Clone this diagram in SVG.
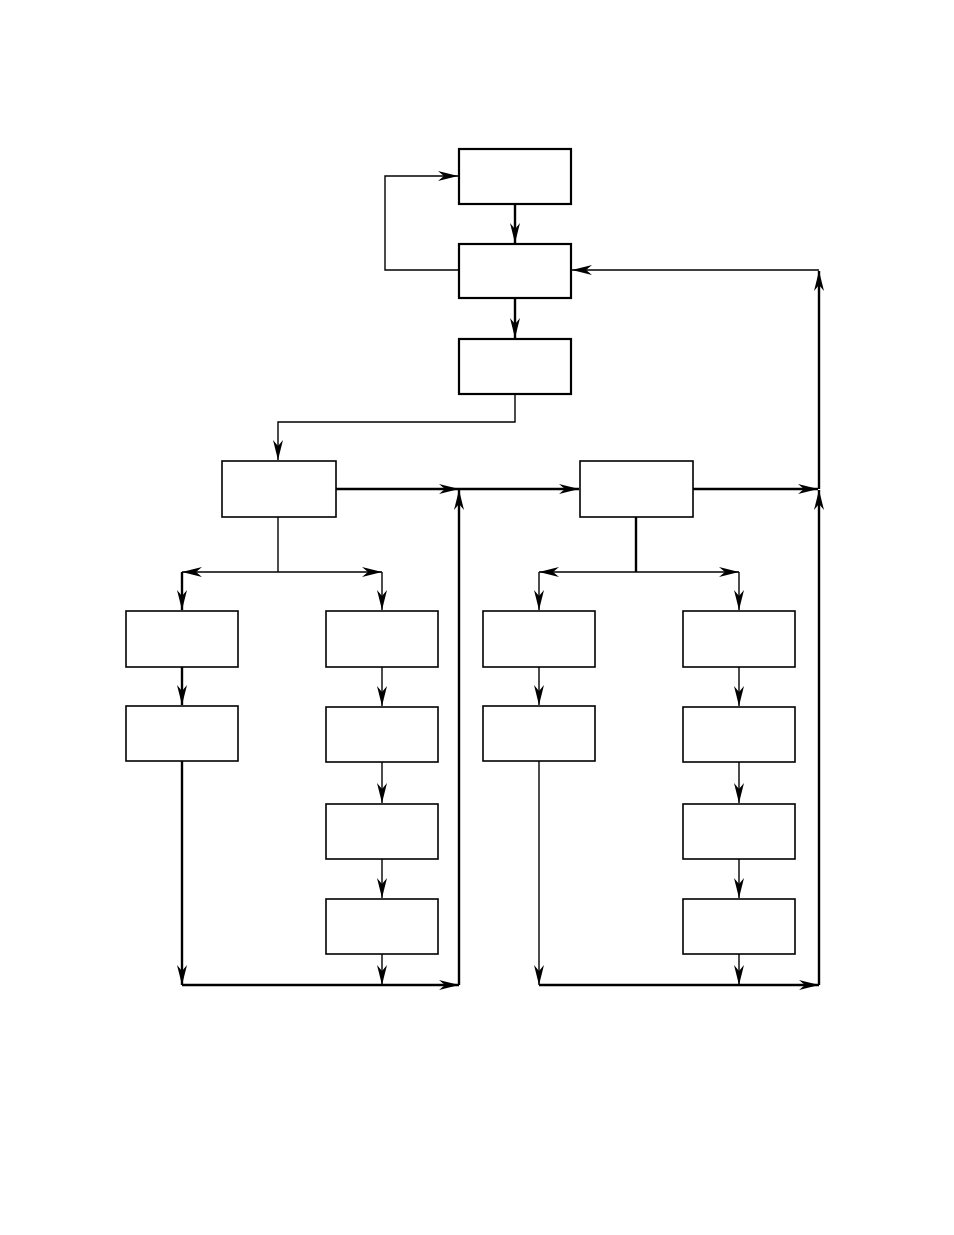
<svg xmlns="http://www.w3.org/2000/svg" width="954" height="1235" viewBox="0 0 954 1235">
<style>
.box{fill:#fff;stroke:#000;stroke-width:1.6}
.boxb{fill:#fff;stroke:#000;stroke-width:2.2}
.thin{fill:none;stroke:#000;stroke-width:1.4}
.thick{fill:none;stroke:#000;stroke-width:2.4}
</style>
<defs>
<marker id="ah" markerUnits="userSpaceOnUse" markerWidth="24" markerHeight="14" viewBox="-22 -7 24 14" refX="0" refY="0" orient="auto">
<path d="M0,0 L-20,-5 L-14,0 L-20,5 Z" fill="#000"/>
</marker>
</defs>
<rect width="954" height="1235" fill="#fff"/>
<g id="connectors">
<path class="thick" d="M515,204 V243" marker-end="url(#ah)"/>
<path class="thick" d="M515,298 V338" marker-end="url(#ah)"/>
<path class="thin" d="M459,270 H385 V176 H458" marker-end="url(#ah)"/>
<path class="thin" d="M819,270 H572" marker-end="url(#ah)"/>
<path class="thin" d="M515,394 V422 H278 V460" marker-end="url(#ah)"/>
<path class="thick" d="M336,489 H459" marker-end="url(#ah)"/>
<path class="thick" d="M459,985 V490" marker-end="url(#ah)"/>
<path class="thick" d="M459,489 H579" marker-end="url(#ah)"/>
<path class="thick" d="M693,489 H818" marker-end="url(#ah)"/>
<path class="thick" d="M819,985 V490" marker-end="url(#ah)"/>
<path class="thick" d="M819,489 V271" marker-end="url(#ah)"/>
<path class="thin" d="M278,517 V572"/>
<path class="thin" d="M278,572 H182" marker-end="url(#ah)"/>
<path class="thin" d="M278,572 H382" marker-end="url(#ah)"/>
<path class="thick" d="M182,572 V610" marker-end="url(#ah)"/>
<path class="thin" d="M382,572 V610" marker-end="url(#ah)"/>
<path class="thick" d="M182,667 V705" marker-end="url(#ah)"/>
<path class="thin" d="M382,667 V706" marker-end="url(#ah)"/>
<path class="thin" d="M382,762 V803" marker-end="url(#ah)"/>
<path class="thin" d="M382,859 V898" marker-end="url(#ah)"/>
<path class="thick" d="M182,761 V985" marker-end="url(#ah)"/>
<path class="thin" d="M382,954 V985" marker-end="url(#ah)"/>
<path class="thick" d="M182,985 H459" marker-end="url(#ah)"/>
<path class="thick" d="M636,517 V572"/>
<path class="thin" d="M636,572 H539" marker-end="url(#ah)"/>
<path class="thin" d="M636,572 H739" marker-end="url(#ah)"/>
<path class="thin" d="M539,572 V610" marker-end="url(#ah)"/>
<path class="thin" d="M739,572 V610" marker-end="url(#ah)"/>
<path class="thin" d="M539,667 V705" marker-end="url(#ah)"/>
<path class="thin" d="M739,667 V706" marker-end="url(#ah)"/>
<path class="thin" d="M739,762 V803" marker-end="url(#ah)"/>
<path class="thin" d="M739,859 V898" marker-end="url(#ah)"/>
<path class="thin" d="M539,761 V985" marker-end="url(#ah)"/>
<path class="thin" d="M739,954 V985" marker-end="url(#ah)"/>
<path class="thick" d="M539,985 H819" marker-end="url(#ah)"/>
</g>
<g id="n1"><rect class="boxb" x="459" y="149" width="112" height="55"/></g>
<g id="n2"><rect class="boxb" x="459" y="244" width="112" height="54"/></g>
<g id="n3"><rect class="boxb" x="459" y="339" width="112" height="55"/></g>
<g id="n4"><rect class="box" x="222" y="461" width="114" height="56"/></g>
<g id="n5"><rect class="box" x="580" y="461" width="113" height="56"/></g>
<g id="n6"><rect class="box" x="126" y="611" width="112" height="56"/></g>
<g id="n7"><rect class="box" x="126" y="706" width="112" height="55"/></g>
<g id="n8"><rect class="box" x="326" y="611" width="112" height="56"/></g>
<g id="n9"><rect class="box" x="326" y="707" width="112" height="55"/></g>
<g id="n10"><rect class="box" x="326" y="804" width="112" height="55"/></g>
<g id="n11"><rect class="box" x="326" y="899" width="112" height="55"/></g>
<g id="n12"><rect class="box" x="483" y="611" width="112" height="56"/></g>
<g id="n13"><rect class="box" x="483" y="706" width="112" height="55"/></g>
<g id="n14"><rect class="box" x="683" y="611" width="112" height="56"/></g>
<g id="n15"><rect class="box" x="683" y="707" width="112" height="55"/></g>
<g id="n16"><rect class="box" x="683" y="804" width="112" height="55"/></g>
<g id="n17"><rect class="box" x="683" y="899" width="112" height="55"/></g>
</svg>
